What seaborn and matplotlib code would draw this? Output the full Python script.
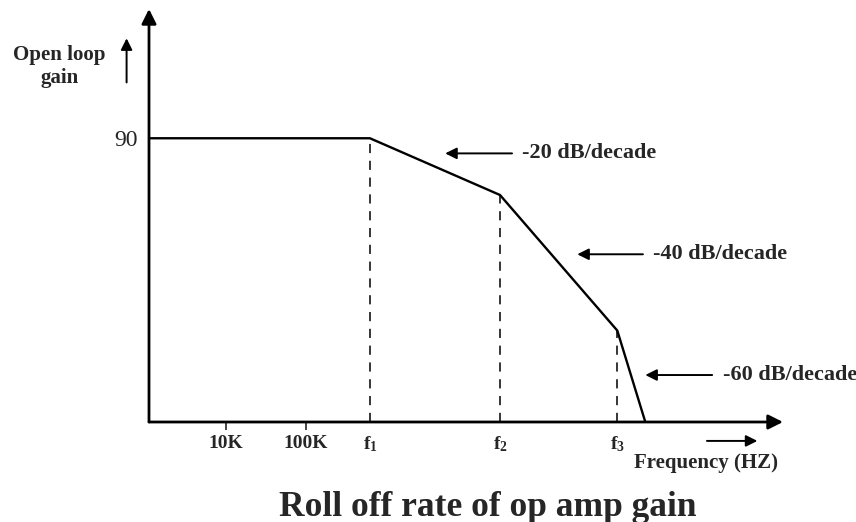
import numpy as np
import pandas as pd
import matplotlib
matplotlib.use("Agg")
import matplotlib.pyplot as plt
import seaborn as sns

# Data (x in decades of frequency, y in dB)
freq_pos = [3.04, 5.8, 7.425, 8.89, 9.24]
gain_db = [90, 90, 72, 29, 0]
corner_pos = [5.8, 7.425, 8.89]
corner_gain = [90, 72, 29]
tick_pos = [4, 5, 5.8, 7.425, 8.89]
tick_labels = ["10K", "100K", "f$_1$", "f$_2$", "f$_3$"]
slope_labels = ["-20 dB/decade", "-40 dB/decade", "-60 dB/decade"]
slope_arrow_head = [6.74, 8.39, 9.24]
slope_arrow_tail = [7.575, 9.21, 10.075]
slope_arrow_y = [85.2, 53.2, 14.9]

sns.set_style("white")
plt.rcParams['font.family'] = ['Liberation Serif', 'DejaVu Serif']
plt.rcParams['font.weight'] = 'bold'
plt.rcParams['mathtext.default'] = 'regular'

fig = plt.figure(figsize=(8.56, 5.22), dpi=100)
ax = fig.add_axes([149 / 856, 100 / 522, 634 / 856, 413 / 522])
x_min, x_max = 3.04, 10.96
y_max = 131
ax.set_xlim(x_min, x_max)
ax.set_ylim(0, y_max)

df = pd.DataFrame({"freq": freq_pos, "gain": gain_db})
sns.lineplot(data=df, x="freq", y="gain", color="black", linewidth=1.7, ax=ax, sort=False)

# dashed drops from the corner frequencies
ax.vlines(corner_pos, 0, corner_gain, colors="black", linestyles=(0, (6, 5)), linewidth=1.1)

for s in ax.spines.values():
    s.set_visible(False)

# axes drawn as arrows
arrow_kw = dict(arrowstyle="-|>", color="black", lw=2.0, mutation_scale=22, shrinkA=0, shrinkB=0)
ax.annotate("", xy=(x_max, 0), xytext=(x_min, 0), arrowprops=arrow_kw, annotation_clip=False)
ax.annotate("", xy=(x_min, y_max), xytext=(x_min, 0), arrowprops=arrow_kw, annotation_clip=False)

ax.set_xticks(tick_pos)
ax.set_xticklabels(tick_labels, fontsize=14, fontweight="bold")
ax.tick_params(axis="x", direction="out", length=6, width=1.2, pad=3, bottom=True)
for t in ax.xaxis.get_major_ticks()[2:]:
    t.tick1line.set_visible(False)
ax.set_yticks([90])
ax.set_yticklabels(["90"], fontsize=17, fontweight="normal")
ax.tick_params(axis="y", length=0, pad=8)
ax.set_xlabel("")
ax.set_ylabel("")

# slope annotations
small_arrow = dict(arrowstyle="-|>", color="black", lw=1.4, mutation_scale=17, shrinkA=0, shrinkB=0)
for lab, h, t, y in zip(slope_labels, slope_arrow_head, slope_arrow_tail, slope_arrow_y):
    ax.annotate("", xy=(h, y), xytext=(t, y), arrowprops=small_arrow, annotation_clip=False)
    ax.text(t + 0.13, y, lab, fontsize=16, fontweight="bold", va="center", ha="left", clip_on=False)

# y-axis caption with up arrow
ax.text(1.925, 116.3, "Open loop", fontsize=15, fontweight="bold", ha="center", va="center", clip_on=False)
ax.text(1.925, 109, "gain", fontsize=15, fontweight="bold", ha="center", va="center", clip_on=False)
ax.annotate("", xy=(2.76, 121.7), xytext=(2.76, 107.7), arrowprops=small_arrow, annotation_clip=False)

# frequency caption with right arrow
ax.annotate("", xy=(10.64, -6.0), xytext=(10.01, -6.0), arrowprops=small_arrow, annotation_clip=False)
ax.text(10.0, -13, "Frequency (HZ)", fontsize=15, fontweight="bold", ha="center", va="center", clip_on=False)

fig.text(488 / 856, 1 - 507 / 522, "Roll off rate of op amp gain", fontsize=25.5, fontweight="bold",
         ha="center", va="center")

fig.savefig("out.png", dpi=100, facecolor="white")
